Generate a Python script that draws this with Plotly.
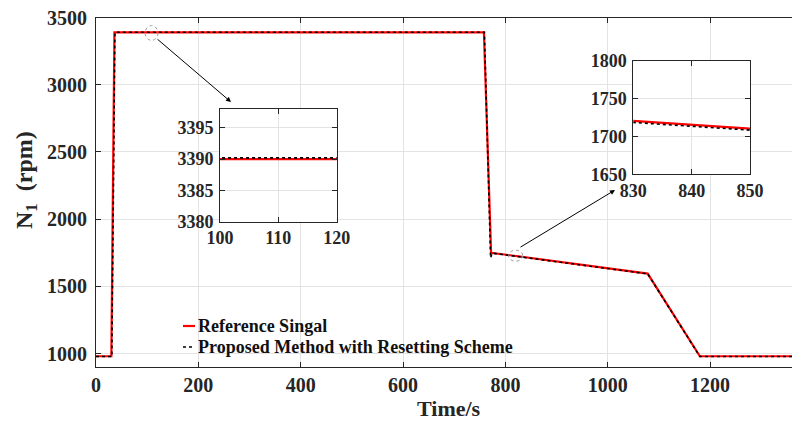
import plotly.graph_objects as go

# Reference speed command (breakpoints of the piecewise-linear profile)
t_ref = [0, 30, 36, 758, 772, 1078, 1180, 1360]
n_ref = [980, 980, 3390, 3390, 1750, 1595, 980, 980]

# Tracked speed with the resetting scheme
t_prop = [0, 31, 37, 759, 771, 774, 1078, 1180, 1360]
n_prop = [978, 978, 3390.2, 3390.2, 1712, 1747, 1593, 978, 978]

x_ticks = [0, 200, 400, 600, 800, 1000, 1200]
y_ticks = [1000, 1500, 2000, 2500, 3000, 3500]
inset1_x = [100, 110, 120]
inset1_y = [3380, 3385, 3390, 3395]
inset2_x = [830, 840, 850]
inset2_y = [1650, 1700, 1750, 1800]

NAME_REF = "Reference Singal"
NAME_PROP = "Proposed Method with Resetting Scheme"

W, H = 792, 425
FONT = "Liberation Serif"
AX = "#262626"
GRID = "#e3e3e3"
RED = "#ff0000"


def px(x):
    return x / W


def py(y):
    return 1 - y / H


fig = go.Figure()

for xa, ya in [("x", "y"), ("x2", "y2"), ("x3", "y3")]:
    fig.add_trace(go.Scatter(x=t_ref, y=n_ref, mode="lines", name=NAME_REF,
                             line=dict(color=RED, width=2.2), xaxis=xa, yaxis=ya,
                             showlegend=False))
    fig.add_trace(go.Scatter(x=t_prop, y=n_prop, mode="lines", name=NAME_PROP,
                             line=dict(color="#000000", width=1.6, dash="dot"),
                             xaxis=xa, yaxis=ya, showlegend=False))


def axis_style(size, standoff=2):
    return dict(showline=True, linecolor=AX, linewidth=1, ticks="inside", tickcolor=AX,
                ticklen=5, showgrid=True, gridcolor=GRID, gridwidth=1, zeroline=False,
                automargin=False, ticklabelstandoff=standoff,
                tickfont=dict(family=FONT, size=size, color="#262626", weight="bold"))


fig.update_layout(
    width=W, height=H,
    margin=dict(l=0, r=0, t=0, b=0),
    paper_bgcolor="white", plot_bgcolor="white",
    font=dict(family=FONT, color="#262626"),
    showlegend=False,
    xaxis=dict(domain=[px(96), 1.0], range=[0, 1360], tickvals=x_ticks,
               mirror="ticks", anchor="y", **axis_style(20, 0)),
    yaxis=dict(domain=[py(367), py(17.5)], range=[900, 3500], tickvals=y_ticks,
               mirror=False, anchor="x", **axis_style(20, 4)),
    xaxis2=dict(domain=[px(220), px(336.7)], range=[100, 120], tickvals=inset1_x,
                mirror="allticks", anchor="y2", **axis_style(18, 0)),
    yaxis2=dict(domain=[py(221.7), py(109)], range=[3380, 3398], tickvals=inset1_y,
                mirror="allticks", anchor="x2", **axis_style(18)),
    xaxis3=dict(domain=[px(633.3), px(750)], range=[830, 850], tickvals=inset2_x,
                mirror="allticks", anchor="y3", **axis_style(18, 0)),
    yaxis3=dict(domain=[py(174.3), py(61)], range=[1650, 1800], tickvals=inset2_y,
                mirror="allticks", anchor="x3", **axis_style(18)),
)

# axis titles
fig.add_annotation(xref="paper", yref="paper", x=px(449), y=py(408), text="Time/s",
                   xanchor="center", yanchor="middle", showarrow=False,
                   font=dict(family=FONT, size=22, weight="bold"))
fig.add_annotation(xref="paper", yref="paper", x=px(26), y=py(180),
                   text="N<sub>1</sub>  (rpm)", textangle=-90, showarrow=False,
                   xanchor="center", yanchor="middle",
                   font=dict(family=FONT, size=24, weight="bold"))

# legend
legend_rows = [(NAME_REF, RED, "solid", 2.2, 326), (NAME_PROP, "#000000", "dot", 1.6, 347)]
for name, color, dash, width, yy in legend_rows:
    fig.add_shape(type="line", xref="paper", yref="paper", x0=px(183), x1=px(195),
                  y0=py(yy), y1=py(yy), line=dict(color=color, width=width, dash=dash))
    fig.add_annotation(xref="paper", yref="paper", x=px(196), y=py(yy), text=name,
                       xanchor="left", yanchor="middle", showarrow=False,
                       font=dict(family=FONT, size=18, color="#111111", weight="bold"))

# dotted markers around the zoomed regions
fig.add_shape(type="circle", xref="x", yref="y", x0=96, x1=121, y0=3330, y1=3440,
              line=dict(color="#9a9a9a", width=1, dash="dot"))
fig.add_shape(type="circle", xref="x", yref="y", x0=806, x1=834, y0=1687, y1=1769,
              line=dict(color="#9a9a9a", width=1, dash="dot"))

# arrows pointing to the insets (tail offsets in pixels)
fig.add_annotation(xref="paper", yref="paper", x=px(231), y=py(102), ax=-75, ay=-64,
                   text="", showarrow=True, arrowhead=2, arrowsize=1, arrowwidth=1,
                   arrowcolor="black")
fig.add_annotation(xref="paper", yref="paper", x=px(615), y=py(190), ax=-96, ay=58,
                   text="", showarrow=True, arrowhead=2, arrowsize=1, arrowwidth=1,
                   arrowcolor="black")

fig.write_html("out.html")
